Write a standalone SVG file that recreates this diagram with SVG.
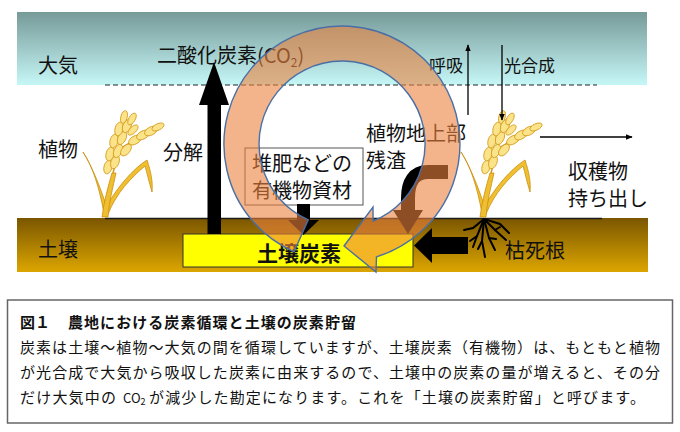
<svg xmlns="http://www.w3.org/2000/svg" xmlns:xlink="http://www.w3.org/1999/xlink" width="680" height="432" viewBox="0 0 680 432">
<style>
.lbl{font-family:"Noto Sans CJK JP","Noto Sans CJK SC",sans-serif;font-size:20px;fill:#111}
.sm{font-size:17px}
.cap{font-family:"Noto Sans CJK JP","Noto Sans CJK SC",sans-serif;font-size:15px;fill:#111}
.capb{font-weight:bold}
.blk{fill:#000}
.thin{stroke:#000;stroke-width:1.3;fill:none}
.grain{fill:#fbe38a;stroke:#d39a1a;stroke-width:0.8}
.leaf{fill:#f0bf30;stroke:#c98f10;stroke-width:0.8}
.root{stroke:#000;stroke-width:2;fill:none;stroke-linecap:round}
</style>
<defs>
<linearGradient id="skyG" x1="0" y1="0" x2="0" y2="1">
<stop offset="0" stop-color="#769a98"/>
<stop offset="1" stop-color="#c6f7f7"/>
</linearGradient>
<linearGradient id="soilG" x1="0" y1="0" x2="0" y2="1">
<stop offset="0" stop-color="#7a5600"/>
<stop offset="1" stop-color="#dca600"/>
</linearGradient>
<marker id="ah" viewBox="0 0 10 10" refX="9" refY="5" markerWidth="7" markerHeight="7" orient="auto" markerUnits="userSpaceOnUse">
<path d="M0,1 L10,5 L0,9 Z" fill="#000"/>
</marker>
<g id="rice">
<path class="leaf" d="M-1,-4 C-6,-30 -12,-50 -22,-65 C-14,-52 -6,-34 2,-9 Z"/>
<path class="leaf" d="M0,-8 C12,-30 28,-48 42,-57 C46,-45 48,-35 47,-25 C44,-35 42,-44 40,-51 C26,-39 12,-25 3,-3 Z"/>
<path class="leaf" d="M-3,0 C-1,-16 3,-30 7,-44 L11,-44 C8,-30 4,-15 3,0 Z"/>
<path d="M8,-44 C12,-60 16,-75 22,-95 M18,-70 C28,-76 40,-83 52,-88" stroke="#d39a1a" stroke-width="1.5" fill="none"/>
<ellipse class="grain" cx="3" cy="-50" rx="4" ry="7" transform="rotate(15 3 -50)"/>
<ellipse class="grain" cx="10" cy="-55" rx="4" ry="7" transform="rotate(20 10 -55)"/>
<ellipse class="grain" cx="5" cy="-63" rx="4" ry="7" transform="rotate(15 5 -63)"/>
<ellipse class="grain" cx="13" cy="-66" rx="4" ry="7" transform="rotate(25 13 -66)"/>
<ellipse class="grain" cx="21" cy="-67" rx="4" ry="7" transform="rotate(40 21 -67)"/>
<ellipse class="grain" cx="9" cy="-76" rx="4" ry="7" transform="rotate(15 9 -76)"/>
<ellipse class="grain" cx="17" cy="-79" rx="4" ry="7" transform="rotate(25 17 -79)"/>
<ellipse class="grain" cx="14" cy="-88" rx="4" ry="7" transform="rotate(15 14 -88)"/>
<ellipse class="grain" cx="22" cy="-91" rx="4" ry="7" transform="rotate(25 22 -91)"/>
<ellipse class="grain" cx="19" cy="-100" rx="3.2" ry="6.5" transform="rotate(15 19 -100)"/>
<ellipse class="grain" cx="27" cy="-98" rx="3.2" ry="6.5" transform="rotate(30 27 -98)"/>
<ellipse class="grain" cx="30" cy="-77" rx="4" ry="7" transform="rotate(60 30 -77)"/>
<ellipse class="grain" cx="38" cy="-82" rx="4" ry="7" transform="rotate(60 38 -82)"/>
<ellipse class="grain" cx="46" cy="-86" rx="4" ry="7" transform="rotate(62 46 -86)"/>
<ellipse class="grain" cx="53" cy="-90" rx="3.2" ry="6.5" transform="rotate(65 53 -90)"/>
<ellipse class="grain" cx="28" cy="-87" rx="3.2" ry="6.5" transform="rotate(45 28 -87)"/>
</g>
</defs>

<g id="background">
<rect x="17" y="12" width="630" height="73" fill="url(#skyG)"/>
<rect x="17" y="218" width="631" height="54" fill="url(#soilG)"/>
<line x1="105" y1="85" x2="597" y2="85" stroke="#222" stroke-width="1" stroke-dasharray="5,3"/>
<line x1="105" y1="218.5" x2="602" y2="218.5" stroke="#1a1a1a" stroke-width="1.5"/>
</g>

<g id="plant-left">
<use xlink:href="#rice" href="#rice" transform="translate(105,217)"/>
</g>
<g id="plant-right">
<use xlink:href="#rice" href="#rice" transform="translate(483,217)"/>
<g class="root" transform="translate(484,219)">
<path d="M0,0 L-11,9 L-20,11"/>
<path d="M0,0 L-7,17 L-11,28"/>
<path d="M0,0 L-2,22 L1,38"/>
<path d="M0,0 L5,19 L11,31"/>
<path d="M0,0 L11,11 L22,21"/>
<path d="M0,0 L16,5 L25,14"/>
<path d="M-7,17 L-14,22 M5,19 L12,20 M11,11 L16,8 M-2,22 L-6,30"/>
</g>
</g>

<g id="node-soil-carbon">
<rect x="183" y="234" width="230" height="33" fill="#ffff00" stroke="#333" stroke-width="1"/>
<text class="lbl" x="257" y="261" style="font-size:21px;font-weight:bold">土壌炭素</text>
</g>

<g id="node-compost">
<rect x="245" y="148" width="118" height="57" fill="#fff" stroke="#555" stroke-width="1"/>
<text class="lbl" x="252" y="171">堆肥などの</text>
<text class="lbl" x="252" y="198">有機物資材</text>
</g>

<g id="labels">
<text class="lbl" x="38" y="73">大気</text>
<text class="lbl" x="38" y="157">植物</text>
<text class="lbl" x="38" y="257">土壌</text>
<text class="lbl" x="163" y="160">分解</text>
<text class="lbl" x="157" y="63">二酸化炭素<tspan>(CO</tspan><tspan style="font-size:12px" dy="4">2</tspan><tspan dy="-4">)</tspan></text>
<text class="lbl sm" x="429" y="72">呼吸</text>
<text class="lbl sm" x="504" y="72">光合成</text>
<text class="lbl" x="366" y="141">植物地上部</text>
<text class="lbl" x="366" y="168">残渣</text>
<text class="lbl" x="568" y="179">収穫物</text>
<text class="lbl" x="568" y="206">持ち出し</text>
<text class="lbl" x="505" y="258">枯死根</text>
</g>

<g id="connectors">
<rect class="blk" x="207.5" y="104" width="13.5" height="130"/>
<polygon class="blk" points="199,105 229,105 214,62"/>
<rect class="blk" x="297" y="204" width="13" height="17"/>
<polygon class="blk" points="288,220 319,220 303.5,235"/>
<path d="M448,172 H428 C414,172 408,182 408,198 V212" stroke="#000" stroke-width="14" fill="none"/>
<polygon class="blk" points="393,210 423,210 408,234"/>
<rect class="blk" x="430" y="237" width="38" height="17"/>
<polygon class="blk" points="414,245.5 432,228 432,263"/>
<line class="thin" x1="468" y1="115" x2="468" y2="45" marker-end="url(#ah)"/>
<line class="thin" x1="502" y1="45" x2="502" y2="120" marker-end="url(#ah)"/>
<line class="thin" x1="540" y1="137" x2="632" y2="137" marker-end="url(#ah)"/>
<path id="cycle" d="M294,251.8 A118,118 0 1 1 376.5,256.8 L376,272 L344,246 L373,207 L373.1,221 A83,83 0 1 0 308.2,219.8 Z" fill="#eb823e" fill-opacity="0.6" stroke="#4a6fa5" stroke-width="1.4"/>
</g>

<g id="caption">
<rect x="7.5" y="300" width="665" height="123" fill="#fff" stroke="#666" stroke-width="1.5"/>
<text class="cap capb" x="20" y="328">図１</text>
<text class="cap capb" x="68" y="328" textLength="288" lengthAdjust="spacing">農地における炭素循環と土壌の炭素貯留</text>
<text class="cap" x="20" y="353" textLength="640" lengthAdjust="spacing">炭素は土壌～植物～大気の間を循環していますが、土壌炭素（有機物）は、もともと植物</text>
<text class="cap" x="20" y="378" textLength="640" lengthAdjust="spacing">が光合成で大気から吸収した炭素に由来するので、土壌中の炭素の量が増えると、その分</text>
<text class="cap" x="20" y="403" textLength="96" lengthAdjust="spacing">だけ大気中の</text>
<text class="cap" x="123" y="403" style="font-size:13px">CO<tspan style="font-size:9px" dy="2">2</tspan></text>
<text class="cap" x="149" y="403" textLength="496" lengthAdjust="spacing">が減少した勘定になります。これを「土壌の炭素貯留」と呼びます。</text>
</g>
</svg>
